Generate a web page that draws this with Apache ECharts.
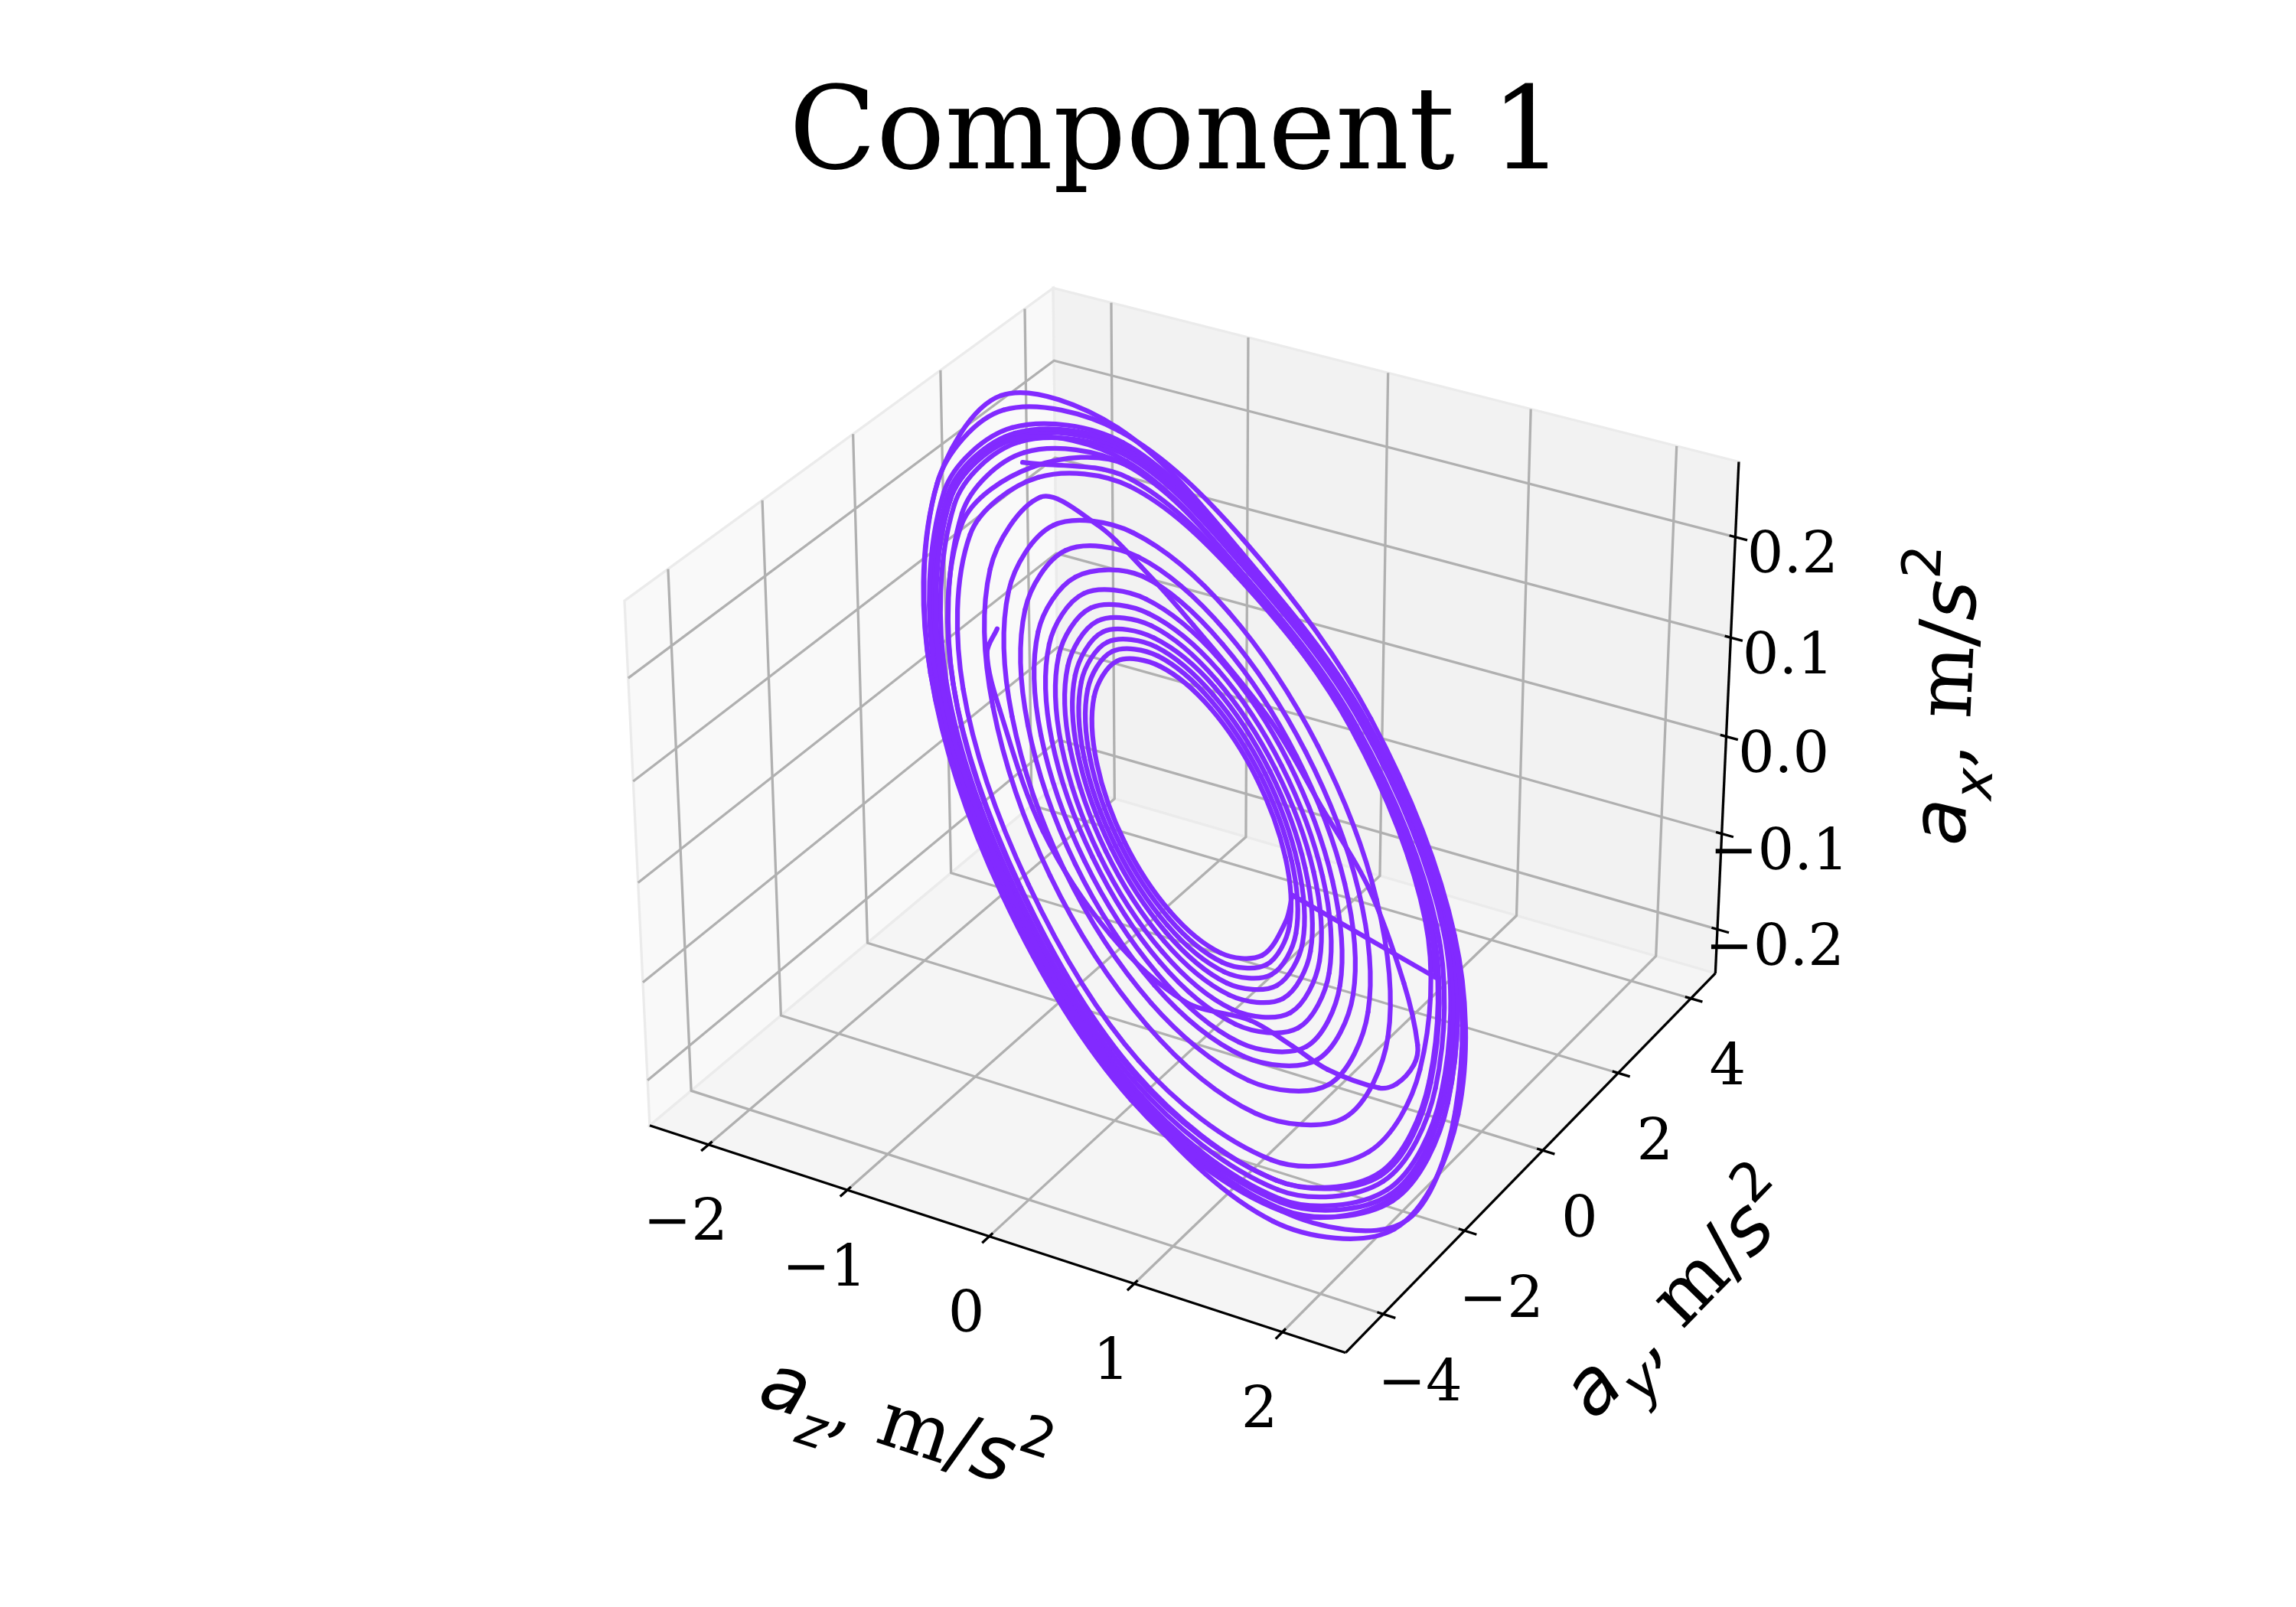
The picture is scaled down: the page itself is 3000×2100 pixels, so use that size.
<!DOCTYPE html>
<html>
<head>
<meta charset="utf-8">
<style>html,body{margin:0;padding:0;background:#fff}#c{width:3000px;height:2100px}</style>
<script src="https://cdn.jsdelivr.net/npm/echarts@6/dist/echarts.min.js"></script>
</head>
<body>
<div id="c"></div>
<script>
// ---- axis limits and ticks ----
const azLim = [-2.43, 2.42];
const ayLim = [-4.90, 4.69];
const axLim = [-0.2466, 0.2737];
const azTicks = [-2, -1, 0, 1, 2];
const ayTicks = [-4, -2, 0, 2, 4];
const axTicks = [-0.2, -0.1, 0, 0.1, 0.2];
const azTickLabels = ['\u22122', '\u22121', '0', '1', '2'];
const ayTickLabels = ['\u22124', '\u22122', '0', '2', '4'];
const axTickLabels = ['\u22120.2', '\u22120.1', '0.0', '0.1', '0.2'];

// ---- first pass of the trajectory (outer bundle) ----
const run1Az = [-1.90,-1.50,-.799,.197,1.197,1.734,1.866,1.566,.764,-.245,-1.188,-1.753,-1.772,
-1.458,-.79,.198,1.225,1.806,1.974,1.652,.804,-.255,-1.238,-1.819,-1.833,
-1.506,-.814,.204,1.257,1.852,2.017,1.692,.825,-.261,-1.274,-1.875,-1.954,
-1.553,-.835,.211,1.291,1.895,2.062,1.726,.844,-.266,-1.296,-1.908,-1.985,
-1.577,-.847,.214,1.307,1.918,2.085,1.745,.853,-.268,-1.309,-1.929,-2.005,
-1.595,-.857,.217,1.325,1.947,2.116,1.772,.866,-.272,-1.329,-1.958,-2.037,
-1.615,-.865,.219,1.327,1.945,2.105,1.779,.879,-.278,-1.352,-2.012,-2.138,
-1.705,-.912,.225,1.352,2.024,2.18,1.754,.87,-.276,-1.352,-2.033,-2.206,
-1.732,-.871,.218,1.339,2.003,2.226,1.779,.861,-.268,-1.298,-1.908,-1.974,
-1.522,-.812,.201,1.231,1.817,1.99,1.652,.811,-.256,-1.238,-1.815,-1.895,
-1.522,-.812,.2025,1.218,1.429];
const run1Ay = [2.192,3.408,3.715,3.146,1.46,-.629,-2.38,-3.653,-3.98,-3.123,-1.515,.483,2.148,
3.311,3.67,3.168,1.495,-.652,-2.514,-3.85,-4.177,-3.265,-1.577,.503,2.223,
3.42,3.787,3.256,1.535,-.666,-2.568,-3.942,-4.28,-3.354,-1.622,.521,2.299,
3.529,3.894,3.349,1.577,-.68,-2.624,-4.022,-4.37,-3.418,-1.649,.531,2.338,
3.584,3.952,3.395,1.597,-.687,-2.652,-4.064,-4.414,-3.453,-1.665,.538,2.363,
3.626,4.001,3.441,1.621,-.696,-2.691,-4.127,-4.481,-3.503,-1.69,.547,2.402,
3.672,4.042,3.459,1.622,-.695,-2.677,-4.144,-4.544,-3.585,-1.719,.564,2.528,
3.878,4.27,3.551,1.654,-.72,-2.87,-4.27,-4.499,-3.567,-1.719,.57,2.688,
3.941,4.068,3.445,1.637,-.714,-2.828,-4.144,-4.455,-3.443,-1.652,.531,2.324,
3.458,3.778,3.214,1.504,-.655,-2.534,-3.85,-4.208,-3.283,-1.577,.502,2.226,
3.458,3.778,3.23,1.487,.882];
const run1Ax = [.195,.155,.075,-.027,-.122,-.17,-.177,-.147,-.072,.025,.121,.184,.186,
.151,.074,-.027,-.125,-.177,-.188,-.155,-.075,.027,.126,.191,.192,
.167,.077,-.028,-.128,-.182,-.192,-.159,-.078,.027,.13,.208,.21,
.172,.079,-.028,-.131,-.186,-.196,-.163,-.079,.028,.132,.211,.213,
.174,.08,-.029,-.133,-.188,-.199,-.164,-.08,.028,.133,.214,.215,
.176,.081,-.029,-.135,-.191,-.202,-.167,-.081,.029,.135,.216,.218,
.178,.082,-.029,-.135,-.191,-.201,-.168,-.083,.029,.137,.222,.228,
.18,.086,-.03,-.138,-.199,-.22,-.174,-.082,.029,.137,.212,.235,
.18,.082,-.029,-.136,-.197,-.213,-.168,-.081,.028,.132,.211,.212,
.169,.077,-.027,-.125,-.178,-.189,-.155,-.076,.027,.126,.202,.204,
.165,.077,-.027,-.124,-.148];

// ---- second pass (spiral growing from the inner hole) ----
const run2Az = [.628,.706,.753,.609,.291,-.119,-.51,-.778,-.847,
-.694,-.362,.062,.463,.735,.803,.65,.312,-.125,-.543,-.828,-.903,
-.74,-.385,.068,.496,.785,.857,.694,.334,-.131,-.575,-.878,-.957,
-.783,-.406,.074,.528,.837,.913,.74,.355,-.137,-.607,-.926,-1.009,
-.827,-.43,.081,.566,.897,.98,.793,.382,-.144,-.645,-.984,-1.07,
-.88,-.456,.088,.61,.966,1.059,.856,.414,-.153,-.69,-1.055,-1.146,
-.942,-.488,.097,.657,1.04,1.14,.922,.446,-.162,-.739,-1.129,-1.227,
-1.009,-.523,.107,.709,1.123,1.232,.997,.484,-.172,-.795,-1.216,-1.322,
-1.088,-.563,.118,.773,1.223,1.343,1.086,.528,-.184,-.861,-1.318,-1.432,
-1.179,-.609,.131,.845,1.337,1.469,1.19,.582,-.199,-.941,-1.447,-1.574,
-1.298,-.671,.149,.94,1.49,1.64,1.327,.648,-.217,-1.038,-1.592,-1.729,
-1.443,-1.137,-.75,-.1125,.404,.857,1.33,1.602,1.661,1.67,1.625,1.387,1.183,.9535,.673,.1845,-.417,-1.024,-1.286,-1.353];
const run2Ay = [.137,-.301,-1.044,-1.54,-1.65,-1.33,-.67,.164,.946,
1.459,1.563,1.231,.545,-.31,-1.106,-1.637,-1.752,-1.415,-.709,.18,1.016,
1.564,1.675,1.318,.586,-.325,-1.173,-1.737,-1.86,-1.501,-.75,.196,1.084,
1.665,1.782,1.403,.626,-.342,-1.243,-1.842,-1.967,-1.586,-.79,.211,1.148,
1.765,1.899,1.499,.673,-.361,-1.327,-1.964,-2.097,-1.685,-.837,.229,1.224,
1.887,2.028,1.609,.728,-.382,-1.425,-2.111,-2.253,-1.81,-.894,.251,1.319,
2.03,2.185,1.733,.787,-.405,-1.526,-2.262,-2.414,-1.937,-.954,.275,1.42,
2.185,2.355,1.872,.852,-.431,-1.641,-2.435,-2.598,-2.086,-1.024,.302,1.537,
2.366,2.552,2.032,.931,-.463,-1.778,-2.64,-2.817,-2.26,-1.106,.334,1.674,
2.576,2.78,2.22,1.021,-.498,-1.935,-2.88,-3.081,-2.47,-1.207,.374,1.851,
2.849,3.084,2.465,1.14,-.546,-2.148,-3.195,-3.408,-2.725,-1.327,.419,2.044,
2.453,2.507,2.468,2.199,1.693,1.243,.433,-.2035,-.515,-.986,-1.255,-1.671,-1.8175,-2.023,-2.601,-2.688,-2.226,-1.221,-.655,-.203];
const run2Ax = [-.0702,-.0775,-.0813,-.066,-.034,.006,.045,.071,.077,
.06,.027,-.015,-.054,-.08,-.086,-.07,-.036,.007,.048,.076,.082,
.065,.029,-.016,-.058,-.085,-.091,-.074,-.038,.008,.051,.081,.087,
.069,.031,-.016,-.061,-.091,-.097,-.079,-.04,.009,.055,.085,.093,
.073,.034,-.017,-.065,-.097,-.104,-.084,-.043,.009,.059,.091,.099,
.079,.036,-.018,-.069,-.103,-.111,-.09,-.046,.01,.063,.098,.106,
.084,.039,-.019,-.074,-.111,-.119,-.096,-.049,.012,.068,.106,.114,
.091,.042,-.02,-.079,-.119,-.129,-.104,-.052,.013,.074,.114,.123,
.105,.05,-.019,-.082,-.123,-.132,-.106,-.053,.016,.084,.131,.141,
.114,.054,-.021,-.089,-.134,-.145,-.116,-.058,.018,.093,.143,.155,
.125,.06,-.023,-.099,-.15,-.162,-.13,-.064,.02,.103,.158,.171,
.141,.108,.065,.0015,-.0497,-.0946,-.141,-.1674,-.1729,-.1732,-.1684,-.144,-.1234,-.1001,-.0712,-.0222,.0374,.097,.1226,.1288];

// ---- projection: same camera a 3D plot uses (elev 30, azim -60) ----
function project(az, ay, ax) {
  const qx = ((az - azLim[0]) / (azLim[1] - azLim[0]) - 0.5) * 1.1905;
  const qy = ((ay - ayLim[0]) / (ayLim[1] - ayLim[0]) - 0.5) * 1.1905;
  const qz = ((ax - axLim[0]) / (axLim[1] - axLim[0]) - 0.5) * 0.8929;
  const U = 0.866025 * qx + 0.5 * qy;
  const V = -0.25 * qx + 0.433013 * qy + 0.866025 * qz;
  const W = 0.433013 * qx - 0.75 * qy + 0.5 * qz;
  return [U / (10 - W), V / (10 - W)];
}
const SCALE = 8750, CX = 1558, CY = 1038.6;
const LINE = '#822aff', GRID = '#b0b0b0', INK = '#000000';

const series = [];
function poly(pts, color, width, z) {
  series.push({
    type: 'line', data: pts, showSymbol: false, silent: true, animation: false, clip: false,
    z: z, lineStyle: { color: color, width: width, join: 'round', cap: 'butt' }
  });
}
// A trajectory drawn with one cubic piece per stored point; the stored points are passed through exactly.
function curve(pts, color, width, z) {
  series.push({
    type: 'custom', silent: true, animation: false, clip: false, z: z,
    data: pts.slice(0, pts.length - 1).map((p, i) => [p[0], p[1], i]),
    renderItem: (params, api) => {
      const i = api.value(2), n = pts.length;
      const P = k => api.coord(pts[Math.max(0, Math.min(n - 1, k))]);
      const a = P(i - 1), b = P(i), c = P(i + 1), d = P(i + 2);
      const len = (p, q) => Math.hypot(p[0] - q[0], p[1] - q[1]) || 1;
      const seg = len(b, c);
      const s0 = seg / 3 / (len(a, b) + seg), s1 = seg / 3 / (seg + len(c, d));
      return { type: 'bezierCurve', shape: {
          x1: b[0], y1: b[1], x2: c[0], y2: c[1],
          cpx1: b[0] + (c[0] - a[0]) * s0, cpy1: b[1] + (c[1] - a[1]) * s0,
          cpx2: c[0] - (d[0] - b[0]) * s1, cpy2: c[1] - (d[1] - b[1]) * s1 },
        style: { fill: 'none', stroke: color, lineWidth: width, lineCap: 'round' } };
    }
  });
}

const [x0, x1] = azLim, [y0, y1] = ayLim, [z0, z1] = axLim;
// panes
const panes = [
  { fill: '#f9f9f9', pts: [[x0,y0,z0],[x0,y0,z1],[x0,y1,z1],[x0,y1,z0]] },
  { fill: '#f2f2f2', pts: [[x0,y1,z0],[x0,y1,z1],[x1,y1,z1],[x1,y1,z0]] },
  { fill: '#f5f5f5', pts: [[x0,y0,z0],[x1,y0,z0],[x1,y1,z0],[x0,y1,z0]] }
];
series.push({
  type: 'custom', silent: true, animation: false, clip: false, z: 1,
  data: panes.map((p, i) => [...project(...p.pts[0]), i]),
  renderItem: (params, api) => {
    const p = panes[api.value(2)];
    return { type: 'polygon', shape: { points: p.pts.map(c => api.coord(project(...c))) },
      style: { fill: p.fill, stroke: '#ebebeb', lineWidth: 3.3 } };
  }
});
// grid lines
azTicks.forEach(t => poly([project(t,y0,z0), project(t,y1,z0), project(t,y1,z1)], GRID, 3.3, 2));
ayTicks.forEach(t => poly([project(x1,t,z0), project(x0,t,z0), project(x0,t,z1)], GRID, 3.3, 2));
axTicks.forEach(t => poly([project(x0,y0,t), project(x0,y1,t), project(x1,y1,t)], GRID, 3.3, 2));
// axis lines
poly([project(x0,y0,z0), project(x1,y0,z0)], INK, 3.3, 3);
poly([project(x1,y0,z0), project(x1,y1,z0)], INK, 3.3, 3);
poly([project(x1,y1,z0), project(x1,y1,z1)], INK, 3.3, 3);
// tick marks
const dx = (x1 - x0) / 12, dy = (y1 - y0) / 12;
azTicks.forEach(t => poly([project(t,y0-0.2*dy,z0), project(t,y0+0.1*dy,z0)], INK, 3.3, 3));
ayTicks.forEach(t => poly([project(x1+0.2*dx,t,z0), project(x1-0.1*dx,t,z0)], INK, 3.3, 3));
axTicks.forEach(t => poly([project(x1+0.2*dx,y1,t), project(x1-0.1*dx,y1,t)], INK, 3.3, 3));
// trajectory
const run1 = run1Az.map((v, i) => project(v, run1Ay[i], run1Ax[i]));
const run2 = run2Az.map((v, i) => project(v, run2Ay[i], run2Ax[i]));
curve(run1, LINE, 6.25, 5);
poly([run1[run1.length - 1], run2[0]], LINE, 6.25, 5);
curve(run2, LINE, 6.25, 5);

// texts anchored on the projected ticks, nudged in pixels
const texts = [];
azTicks.forEach((t, i) => texts.push({ at: project(t,y0,z0), off: [-30, 105], text: azTickLabels[i] }));
ayTicks.forEach((t, i) => texts.push({ at: project(x1,t,z0), off: [48, 93], text: ayTickLabels[i] }));
axTicks.forEach((t, i) => texts.push({ at: project(x1,y1,t), off: [75, 27], text: axTickLabels[i] }));
const rich = {
  a: { fontFamily: 'DejaVu Sans', fontStyle: 'italic', fontSize: 100, lineHeight: 150, verticalAlign: 'middle', fill: INK, color: INK },
  t: { fontFamily: 'DejaVu Serif', fontSize: 100, lineHeight: 150, verticalAlign: 'middle', fill: INK, color: INK },
  sub: { fontFamily: 'DejaVu Sans', fontStyle: 'italic', fontSize: 70, lineHeight: 110, verticalAlign: 'bottom', fill: INK, color: INK },
  sup: { fontFamily: 'DejaVu Sans', fontSize: 70, lineHeight: 70, verticalAlign: 'top', fill: INK, color: INK }
};
const axisNames = [
  { at: project(0,y0,z0), off: [-113, 253], rot: -18, name: 'z' },
  { at: project(x1,0,z0), off: [184, 196], rot: 45.8, name: 'y' },
  { at: project(x1,y1,0), off: [294, -53], rot: 87.4, name: 'x' }
];
axisNames.forEach(n => texts.push({ at: n.at, off: n.off, rot: n.rot,
  text: '{a|a}{sub|' + n.name + '}{t|, m/}{a|s}{sup|2}', rich: true }));

series.push({
  type: 'custom', silent: true, animation: false, clip: false, z: 6,
  data: texts.map((t, i) => [t.at[0], t.at[1], i]),
  renderItem: (params, api) => {
    const t = texts[api.value(2)];
    const c = api.coord([api.value(0), api.value(1)]);
    const style = { text: t.text, fill: INK, align: 'center', verticalAlign: 'middle',
      fontFamily: 'DejaVu Serif', fontSize: 75 };
    if (t.rich) style.rich = rich;
    return { type: 'text', x: c[0] + t.off[0], y: c[1] + t.off[1],
      rotation: (t.rot || 0) * Math.PI / 180, style: style };
  }
});

const chart = echarts.init(document.getElementById('c'), null, { width: 3000, height: 2100, renderer: 'canvas' });
chart.setOption({
  animation: false,
  backgroundColor: '#ffffff',
  title: { text: 'Component 1', left: 1532, top: 102, textAlign: 'center',
    textStyle: { fontFamily: 'DejaVu Serif', fontWeight: 'normal', fontSize: 149, color: INK } },
  grid: { left: 0, right: 0, top: 0, bottom: 0 },
  xAxis: { type: 'value', show: false, min: (0 - CX) / SCALE, max: (3000 - CX) / SCALE },
  yAxis: { type: 'value', show: false, min: (CY - 2100) / SCALE, max: CY / SCALE },
  series: series
});
</script>
</body>
</html>
